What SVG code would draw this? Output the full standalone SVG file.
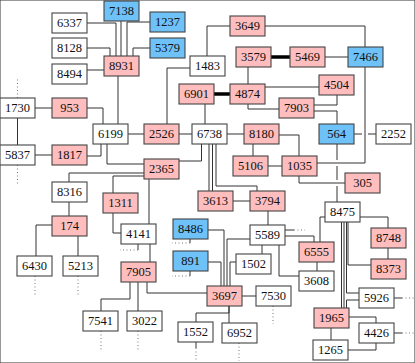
<svg xmlns="http://www.w3.org/2000/svg" width="415" height="363" viewBox="0 0 415 363">
<style>
rect{stroke:#444;stroke-width:1.1}
.p{fill:#ffbdbd}
.b{fill:#6ec2f8}
.w{fill:#fff}
text{font-family:"Liberation Serif","Times New Roman",serif;font-size:12.5px;fill:#111;text-anchor:middle}
#edges path{fill:none;stroke:#333;stroke-width:1}
#edges path.thick{stroke:#000;stroke-width:3.5}
#edges path.stub{stroke:#777;stroke-dasharray:1 2.5}
</style>
<rect x="0" y="0" width="415" height="363" fill="#fff" stroke="none"/>
<g id="edges">
<path d="M87,23H116V56"/>
<path d="M121,21V56"/>
<path d="M150,22H127V56"/>
<path d="M87,48H110V56"/>
<path d="M150,48H133V56"/>
<path d="M87,70H104"/>
<path d="M118,76V124"/>
<path d="M87,108H103V124"/>
<path d="M35,108H52"/>
<path d="M17.5,118V145"/>
<path d="M35,155H52"/>
<path d="M87,156H101V144"/>
<path d="M127,134H144"/>
<path d="M107,144V164H144"/>
<path d="M179,134H192"/>
<path d="M190,68H167V124"/>
<path d="M207,56V26H230"/>
<path d="M265,26H365V47"/>
<path d="M365,67V163H317"/>
<path class="thick" d="M271,57H290"/>
<path d="M325,57H348"/>
<path d="M248,67V84"/>
<path class="thick" d="M213,94H230"/>
<path d="M265,87H319"/>
<path d="M248,104V109H279"/>
<path d="M337,95V105H314"/>
<path d="M314,111H337V124"/>
<path d="M354,134H362M368,134H376"/>
<path d="M337,144V160M337,166V180M337,186V202"/>
<path d="M299,176V183H345"/>
<path d="M279,135H299V156"/>
<path d="M253,144V156"/>
<path d="M268,166H282"/>
<path d="M227,134H244"/>
<path d="M205,104V124"/>
<path d="M201.5,144V161H179"/>
<path d="M209,144V191"/>
<path d="M212.5,144V191"/>
<path d="M216,144V186H257V191"/>
<path d="M233,201H250"/>
<path d="M268,211V225"/>
<path d="M285,230H294"/>
<path class="stub" d="M294,230H305"/>
<path d="M285,236H314V242"/>
<path d="M262,245V254"/>
<path d="M279,245V276H299"/>
<path d="M317,262V271"/>
<path d="M250,239H227V286"/>
<path d="M236,262H230V286"/>
<path d="M208,262H221V286"/>
<path d="M208,230H224V286"/>
<path d="M242,296H256"/>
<path class="stub" d="M273,306V324"/>
<path d="M229,306V313H196V322"/>
<path d="M229,306V323"/>
<path class="stub" d="M239,343V361"/>
<path d="M196,342V348"/>
<path class="stub" d="M196,348V361"/>
<path d="M147,282V293H207"/>
<path d="M130,282V299H101V311"/>
<path d="M138,282V311"/>
<path class="stub" d="M101,331V350"/>
<path class="stub" d="M138,331V350"/>
<path d="M149,179V224"/>
<path d="M150,244V262"/>
<path d="M138,244V250"/>
<path class="stub" d="M138,250H120"/>
<path d="M190,239V243"/>
<path class="stub" d="M190,243H172"/>
<path d="M190,271V276"/>
<path class="stub" d="M190,276H172"/>
<path d="M113,213V233H121"/>
<path d="M144,176H113V193"/>
<path d="M144,173H69V182"/>
<path d="M69,202V216"/>
<path d="M52,225H36V256"/>
<path d="M78,236V256"/>
<path class="stub" d="M35,276V295"/>
<path class="stub" d="M78,276V295"/>
<path d="M325,217H320V242"/>
<path d="M359,217H388V228"/>
<path d="M388,248V259"/>
<path d="M348,222V265H371"/>
<path d="M341.5,222V308"/>
<path d="M344,222V308"/>
<path d="M346.5,222V293H359"/>
<path d="M359,300H346.5V308"/>
<path d="M394,298H402"/>
<path class="stub" d="M402,298H414"/>
<path d="M348,317H376V323"/>
<path d="M331,328V340"/>
<path d="M348,350H376V343"/>
<path d="M394,333H402"/>
<path class="stub" d="M402,333H414"/>
<path class="stub" d="M17.5,98V79"/>
<path class="stub" d="M17.5,165V184"/>
</g>
<g id="n7138"><rect class="b" x="104" y="1" width="35" height="20"/><text x="121.5" y="15.3">7138</text></g>
<g id="n6337"><rect class="w" x="52" y="13" width="35" height="20"/><text x="69.5" y="27.3">6337</text></g>
<g id="n1237"><rect class="b" x="150" y="12" width="35" height="20"/><text x="167.5" y="26.3">1237</text></g>
<g id="n8128"><rect class="w" x="52" y="38" width="35" height="20"/><text x="69.5" y="52.3">8128</text></g>
<g id="n5379"><rect class="b" x="150" y="38" width="35" height="20"/><text x="167.5" y="52.3">5379</text></g>
<g id="n8931"><rect class="p" x="104" y="56" width="35" height="20"/><text x="121.5" y="70.3">8931</text></g>
<g id="n8494"><rect class="w" x="52" y="64" width="35" height="20"/><text x="69.5" y="78.3">8494</text></g>
<g id="n3649"><rect class="p" x="230" y="16" width="35" height="20"/><text x="247.5" y="30.3">3649</text></g>
<g id="n3579"><rect class="p" x="236" y="47" width="35" height="20"/><text x="253.5" y="61.3">3579</text></g>
<g id="n5469"><rect class="p" x="290" y="47" width="35" height="20"/><text x="307.5" y="61.3">5469</text></g>
<g id="n7466"><rect class="b" x="348" y="47" width="35" height="20"/><text x="365.5" y="61.3">7466</text></g>
<g id="n1483"><rect class="w" x="190" y="56" width="35" height="20"/><text x="207.5" y="70.3">1483</text></g>
<g id="n4504"><rect class="p" x="319" y="75" width="35" height="20"/><text x="336.5" y="89.3">4504</text></g>
<g id="n6901"><rect class="p" x="179" y="84" width="35" height="20"/><text x="196.5" y="98.3">6901</text></g>
<g id="n4874"><rect class="p" x="230" y="84" width="35" height="20"/><text x="247.5" y="98.3">4874</text></g>
<g id="n7903"><rect class="p" x="279" y="98" width="35" height="20"/><text x="296.5" y="112.3">7903</text></g>
<g id="n1730"><rect class="w" x="0" y="98" width="35" height="20"/><text x="17.5" y="112.3">1730</text></g>
<g id="n953"><rect class="p" x="52" y="98" width="35" height="20"/><text x="69.5" y="112.3">953</text></g>
<g id="n6199"><rect class="w" x="93" y="124" width="35" height="20"/><text x="110.5" y="138.3">6199</text></g>
<g id="n2526"><rect class="p" x="144" y="124" width="35" height="20"/><text x="161.5" y="138.3">2526</text></g>
<g id="n6738"><rect class="w" x="192" y="124" width="35" height="20"/><text x="209.5" y="138.3">6738</text></g>
<g id="n8180"><rect class="p" x="244" y="124" width="35" height="20"/><text x="261.5" y="138.3">8180</text></g>
<g id="n564"><rect class="b" x="319" y="124" width="35" height="20"/><text x="336.5" y="138.3">564</text></g>
<g id="n2252"><rect class="w" x="376" y="124" width="35" height="20"/><text x="393.5" y="138.3">2252</text></g>
<g id="n5837"><rect class="w" x="0" y="145" width="35" height="20"/><text x="17.5" y="159.3">5837</text></g>
<g id="n1817"><rect class="p" x="52" y="145" width="35" height="20"/><text x="69.5" y="159.3">1817</text></g>
<g id="n5106"><rect class="p" x="233" y="156" width="35" height="20"/><text x="250.5" y="170.3">5106</text></g>
<g id="n1035"><rect class="p" x="282" y="156" width="35" height="20"/><text x="299.5" y="170.3">1035</text></g>
<g id="n2365"><rect class="p" x="144" y="159" width="35" height="20"/><text x="161.5" y="173.3">2365</text></g>
<g id="n305"><rect class="p" x="345" y="173" width="35" height="20"/><text x="362.5" y="187.3">305</text></g>
<g id="n8316"><rect class="w" x="52" y="182" width="35" height="20"/><text x="69.5" y="196.3">8316</text></g>
<g id="n3613"><rect class="p" x="198" y="191" width="35" height="20"/><text x="215.5" y="205.3">3613</text></g>
<g id="n3794"><rect class="p" x="250" y="191" width="35" height="20"/><text x="267.5" y="205.3">3794</text></g>
<g id="n1311"><rect class="p" x="103" y="193" width="35" height="20"/><text x="120.5" y="207.3">1311</text></g>
<g id="n8475"><rect class="w" x="325" y="202" width="35" height="20"/><text x="342.5" y="216.3">8475</text></g>
<g id="n174"><rect class="p" x="52" y="216" width="35" height="20"/><text x="69.5" y="230.3">174</text></g>
<g id="n8486"><rect class="b" x="173" y="219" width="35" height="20"/><text x="190.5" y="233.3">8486</text></g>
<g id="n4141"><rect class="w" x="121" y="224" width="35" height="20"/><text x="138.5" y="238.3">4141</text></g>
<g id="n5589"><rect class="w" x="250" y="225" width="35" height="20"/><text x="267.5" y="239.3">5589</text></g>
<g id="n8748"><rect class="p" x="371" y="228" width="35" height="20"/><text x="388.5" y="242.3">8748</text></g>
<g id="n6555"><rect class="p" x="299" y="242" width="35" height="20"/><text x="316.5" y="256.3">6555</text></g>
<g id="n891"><rect class="b" x="173" y="251" width="35" height="20"/><text x="190.5" y="265.3">891</text></g>
<g id="n1502"><rect class="w" x="236" y="254" width="35" height="20"/><text x="253.5" y="268.3">1502</text></g>
<g id="n6430"><rect class="w" x="17" y="256" width="35" height="20"/><text x="34.5" y="270.3">6430</text></g>
<g id="n5213"><rect class="w" x="63" y="256" width="35" height="20"/><text x="80.5" y="270.3">5213</text></g>
<g id="n8373"><rect class="p" x="371" y="259" width="35" height="20"/><text x="388.5" y="273.3">8373</text></g>
<g id="n7905"><rect class="p" x="121" y="262" width="35" height="20"/><text x="138.5" y="276.3">7905</text></g>
<g id="n3608"><rect class="w" x="299" y="271" width="35" height="20"/><text x="316.5" y="285.3">3608</text></g>
<g id="n3697"><rect class="p" x="207" y="286" width="35" height="20"/><text x="224.5" y="300.3">3697</text></g>
<g id="n7530"><rect class="w" x="256" y="286" width="35" height="20"/><text x="273.5" y="300.3">7530</text></g>
<g id="n5926"><rect class="w" x="359" y="288" width="35" height="20"/><text x="376.5" y="302.3">5926</text></g>
<g id="n1965"><rect class="p" x="314" y="308" width="35" height="20"/><text x="331.5" y="322.3">1965</text></g>
<g id="n7541"><rect class="w" x="83" y="311" width="35" height="20"/><text x="100.5" y="325.3">7541</text></g>
<g id="n3022"><rect class="w" x="127" y="311" width="35" height="20"/><text x="144.5" y="325.3">3022</text></g>
<g id="n1552"><rect class="w" x="178" y="322" width="35" height="20"/><text x="195.5" y="336.3">1552</text></g>
<g id="n6952"><rect class="w" x="222" y="323" width="35" height="20"/><text x="239.5" y="337.3">6952</text></g>
<g id="n4426"><rect class="w" x="359" y="323" width="35" height="20"/><text x="376.5" y="337.3">4426</text></g>
<g id="n1265"><rect class="w" x="313" y="340" width="35" height="20"/><text x="330.5" y="354.3">1265</text></g>
</svg>
